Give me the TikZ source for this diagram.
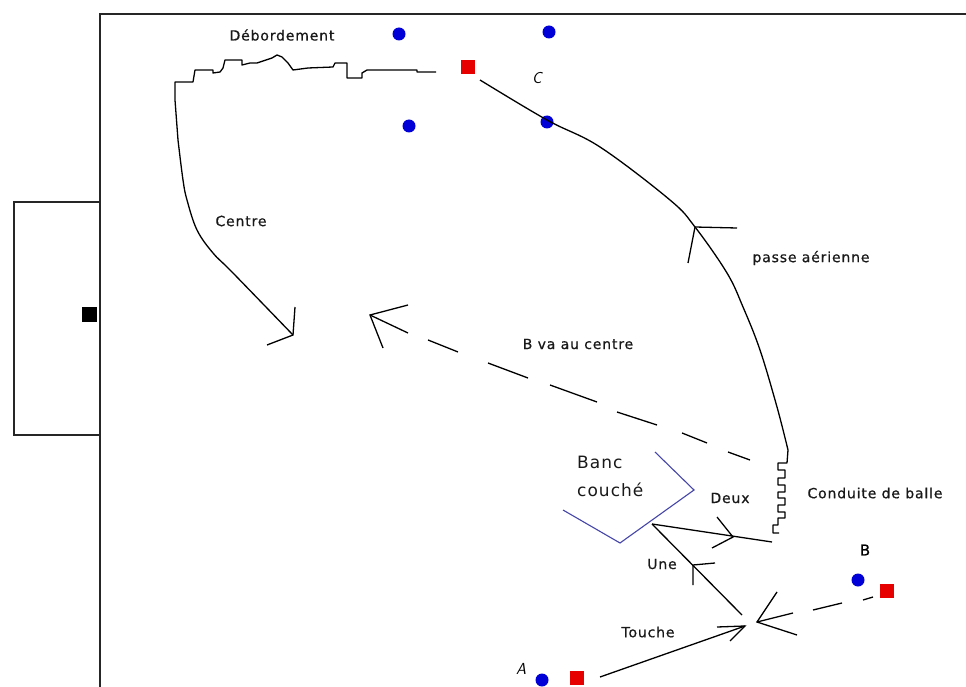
\documentclass[tikz,border=0pt]{standalone}
\usepackage{fontspec}
\newfontfamily\pixfont[LetterSpace=6,FakeBold=0.6]{DejaVu Sans}
\newfontfamily\bancfont[LetterSpace=6]{DejaVu Sans}
\definecolor{dotblue}{RGB}{0,0,215}
\definecolor{sqred}{RGB}{230,0,0}
\definecolor{bancblue}{RGB}{70,70,170}
\begin{document}
\begin{tikzpicture}[x=1pt,y=-1pt,
  field/.style={line width=1.7pt, black!85},
  run/.style={line width=1.3pt, black, line join=round},
  barb/.style={line width=1.3pt, black},
  bluedot/.style={circle, fill=dotblue, draw=none, inner sep=0pt, minimum size=13pt},
  redsq/.style={rectangle, fill=sqred, draw=none, inner sep=0pt, minimum size=14.5pt},
  lab/.style={font=\pixfont\fontsize{14}{16}\selectfont, inner sep=0pt, text=black!90},
  bigl/.style={font=\bancfont\fontsize{17}{19}\selectfont, inner sep=0pt, text=black!90, anchor=west},
  letter/.style={font=\sffamily\itshape\fontsize{16}{18}\selectfont, inner sep=0pt}]
\useasboundingbox[fill=white] (0,0) rectangle (966,687);

% field and goal
\draw[field] (966,14) -- (100,14) -- (100,687);
\draw[field] (100,202) -- (14,202) -- (14,435) -- (100,435);
\node[rectangle, fill=black, inner sep=0pt, minimum size=15pt] (keeper) at (89.5,314.5) {};

% players
\node[bluedot] (d1) at (399,34) {};
\node[bluedot] (d2) at (549,32) {};
\node[bluedot] (d3) at (409,126) {};
\node[bluedot] (d4) at (547,122) {};
\node[bluedot] (pB) at (858,580) {};
\node[bluedot] (pA) at (542,680) {};
\node[redsq] (sC) at (468,67) {};
\node[redsq] (sB) at (887,591) {};
\node[redsq] (sA) at (577,678) {};

% Debordement (dribble) and centre
\draw[run] (436,72) -- (417,72) -- (417,70) -- (367,70) -- (362,73) -- (362,78) -- (347,78)
  -- (347,63) -- (335,63) -- (333,67) -- (308,68) -- (293,70) -- (288,63) -- (282,57)
  -- (277,55) -- (272,58) -- (260,62) -- (257,63) -- (250,63) -- (242,65) -- (242,60)
  -- (225,60) -- (223,68) -- (220,72) -- (213,73) -- (213,70) -- (195,70) -- (193,82)
  -- (175,82) -- (175,100) -- (178,140)
  plot[smooth, tension=0.6] coordinates {(178,140) (183,180) (187,200) (197,230) (213,253) (233,273) (293,335)};
\coordinate (centreTip) at (293,335);
\draw[barb] (295,307) -- (centreTip) -- (267,345);

% passe aerienne from conduite to C
\draw[run] plot[smooth, tension=0.6] coordinates {(480,80) (547,120) (600,147) (670,200) (695,227) (727,273) (743,307) (760,350) (777,407) (788,450)};
\coordinate (paTip) at (695,227);
\draw[barb] (737,228) -- (paTip) -- (688,263);

% conduite de balle
\draw[run] (788,450) -- (787,463) -- (778,463) -- (778,470) -- (785,470) -- (785,478)
  -- (778,478) -- (778,485) -- (785,485) -- (785,492) -- (778,492) -- (778,498)
  -- (785,498) -- (785,505) -- (778,505) -- (778,512) -- (785,512) -- (785,518)
  -- (778,518) -- (778,525) -- (773,525) -- (773,533) -- (779,533);

% Banc couche
\draw[line width=1.1pt, bancblue] (655,452) -- (694,490) -- (620,543) -- (563,510);

% passes Une / Deux
\coordinate (bank) at (652,524);
\coordinate (deuxEnd) at (772,542);
\coordinate (uneStart) at (742,615);
\draw[run] (bank) -- (deuxEnd);
\draw[barb] (717,517) -- (733,537) -- (712,548);
\draw[run] (uneStart) -- (bank);
\draw[barb] (715,563) -- (693,565) -- (693,585);

% Touche
\coordinate (touchTip) at (745,626);
\draw[run] (600,677) -- (touchTip);
\draw[barb] (717,627) -- (touchTip) -- (730,641);

% B dashed run to touche
\coordinate (bTip) at (757,622);
\draw[barb] (863,600) -- (873,597);
\draw[barb] (813,610) -- (842,603);
\draw[barb] (777,592) -- (bTip) -- (797,635);
\draw[barb] (bTip) -- (793,613);

% B va au centre (dashed)
\draw[barb] (750,460) -- (728,452);
\draw[barb] (707,443) -- (682,433);
\draw[barb] (657,425) -- (617,412);
\draw[barb] (597,402) -- (550,385);
\draw[barb] (528,378) -- (488,363);
\draw[barb] (458,352) -- (428,340);
\coordinate (bcTip) at (370,315);
\draw[barb] (408,305) -- (bcTip) -- (383,348);
\draw[barb] (bcTip) -- (408,333);

% labels
\node[lab] (tDeb) at (282,35) {Débordement};
\node[letter] (tC) at (537,78) {C};
\node[lab] (tCentre) at (241,221) {Centre};
\node[lab] (tPasse) at (811,258) {passe aérienne};
\node[lab] (tBva) at (578,344) {B va au centre};
\node[bigl] (tBanc) at (577,462) {Banc};
\node[bigl] (tCouche) at (577,490) {couché};
\node[lab] (tDeux) at (730,498) {Deux};
\node[lab] (tCond) at (875,493) {Conduite de balle};
\node[font=\pixfont\fontsize{15}{17}\selectfont, inner sep=0pt] (tB) at (865,550) {B};
\node[lab] (tUne) at (662,564) {Une};
\node[lab] (tTouche) at (648,632) {Touche};
\node[letter] (tA) at (521,669) {A};
\end{tikzpicture}
\end{document}
